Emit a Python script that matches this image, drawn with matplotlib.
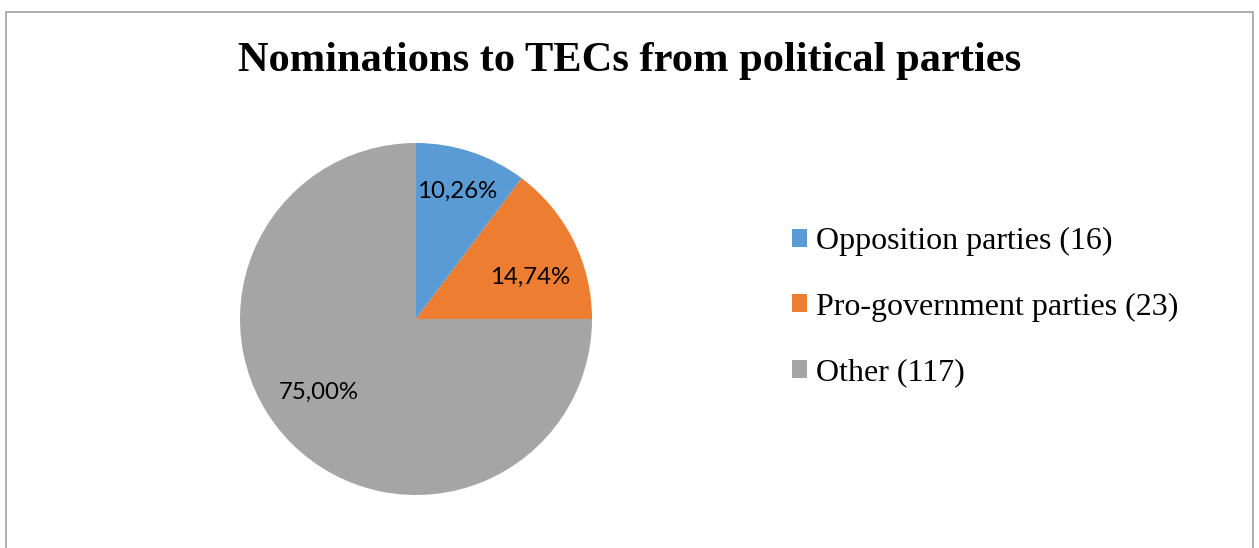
import numpy as np
import matplotlib.pyplot as plt
from matplotlib.patches import Patch, Rectangle

# Nominations by source
labels = ["Opposition parties", "Pro-government parties", "Other"]
counts = [16, 23, 117]
colors = ["#5B9BD5", "#ED7D31", "#A5A5A5"]

# where each percentage label sits, as (radius fraction, angle in degrees)
label_spots = [(0.76, 72), (0.69, 20), (0.69, -143)]

W, H = 1259, 548
fig = plt.figure(figsize=(W / 100, H / 100), dpi=100)

# thin grey frame round the chart area
fig.patches.append(Rectangle((6 / W, -0.05), (1253 - 6) / W, 1.05 - 12 / H,
                             transform=fig.transFigure, fill=False,
                             edgecolor="#A0A0A0", linewidth=1.2))

fig.text(630 / W, 1 - 61 / H, "Nominations to TECs from political parties",
         ha="center", va="center", fontsize=30.6, fontweight="bold",
         family="Liberation Serif")

cx, cy, r = 416, 319, 176
ax = fig.add_axes([(cx - r) / W, (H - cy - r) / H, 2 * r / W, 2 * r / H])

wedges, texts, autotexts = ax.pie(
    counts, colors=colors, startangle=90, counterclock=False,
    autopct=lambda p: f"{p:.2f}%".replace(".", ","),
    pctdistance=0.72, wedgeprops=dict(linewidth=0))
ax.set_xlim(-1, 1)
ax.set_ylim(-1, 1)

for t, (d, a) in zip(autotexts, label_spots):
    t.set_position((d * np.cos(np.radians(a)), d * np.sin(np.radians(a))))
    t.set_fontsize(17.3)
    t.set_family("Lato")
    t.set_color("black")

handles = [Patch(facecolor=c, edgecolor="none") for c in colors]
legend_labels = [f"{l} ({n})" for l, n in zip(labels, counts)]
fig.legend(handles, legend_labels, loc="center left",
           bbox_to_anchor=(792 / W, 1 - 307 / H), frameon=False,
           prop=dict(family="Liberation Serif", size=23),
           handlelength=0.48, handleheight=0.48, handletextpad=0.28,
           labelspacing=1.14, borderpad=0, borderaxespad=0)

fig.savefig("out.png", dpi=100, facecolor="white")
